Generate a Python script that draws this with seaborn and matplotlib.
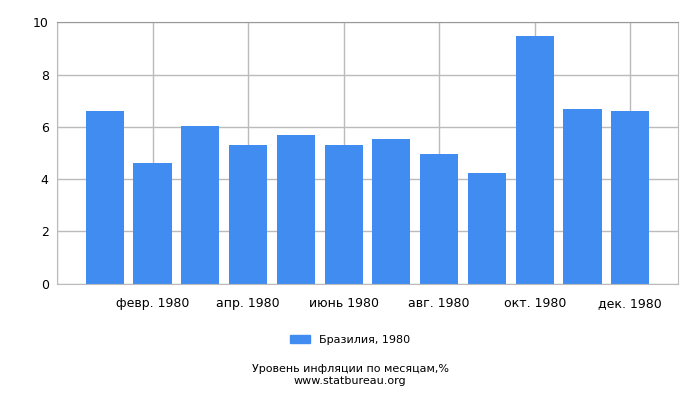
import matplotlib
matplotlib.use("Agg")
import matplotlib.pyplot as plt
import seaborn as sns
import pandas as pd

# Monthly inflation, Brazil 1980 (%)
months = ["янв. 1980", "февр. 1980", "март 1980", "апр. 1980", "май 1980", "июнь 1980",
          "июль 1980", "авг. 1980", "сент. 1980", "окт. 1980", "нояб. 1980", "дек. 1980"]
values = [6.60, 4.61, 6.03, 5.30, 5.68, 5.30, 5.53, 4.95, 4.23, 9.49, 6.68, 6.60]
series_name = "Бразилия, 1980"

df = pd.DataFrame({"month": months, "value": values, "series": series_name})

sns.set_style("white")
plt.rcParams['font.family'] = ['DejaVu Sans']
plt.rcParams['text.color'] = 'black'
plt.rcParams['xtick.color'] = 'black'
plt.rcParams['ytick.color'] = 'black'

fig = plt.figure(figsize=(7, 4), dpi=100)
ax = fig.add_axes([0.0814, 0.291, 0.8872, 0.653])

sns.barplot(data=df, x="month", y="value", hue="series", palette=["#418cf0"],
            width=0.8, saturation=1, ax=ax, legend=False, linewidth=0, zorder=2)

ax.set_xlim(-1, 12)
ax.set_ylim(0, 10)
ax.set_yticks([0, 2, 4, 6, 8, 10])
tick_pos = [-1] + list(range(1, 12, 2))
ax.set_xticks(tick_pos)
ax.set_xticklabels([""] + [months[i] for i in range(1, 12, 2)], fontsize=9)
ax.tick_params(axis="y", labelsize=9, length=4, color="black", pad=2)
ax.tick_params(axis="x", length=4, color="black", pad=6)
ax.grid(True, color="#bbbbbb", linewidth=1, zorder=0)
ax.set_axisbelow(True)
for side in ["left", "right", "bottom"]:
    ax.spines[side].set_color("#bbbbbb")
ax.spines["top"].set_color("#999999")
ax.set_xlabel("")
ax.set_ylabel("")

handle = plt.Rectangle((0, 0), 1, 1, color="#418cf0")
fig.legend([handle], [series_name], loc="center", bbox_to_anchor=(0.5, 0.15),
           frameon=False, fontsize=8, handlelength=1.8, handleheight=0.8)

fig.text(0.5, 0.077, "Уровень инфляции по месяцам,%", ha="center", va="center", fontsize=8)
fig.text(0.5, 0.047, "www.statbureau.org", ha="center", va="center", fontsize=8)

fig.savefig("out.png", dpi=100)
